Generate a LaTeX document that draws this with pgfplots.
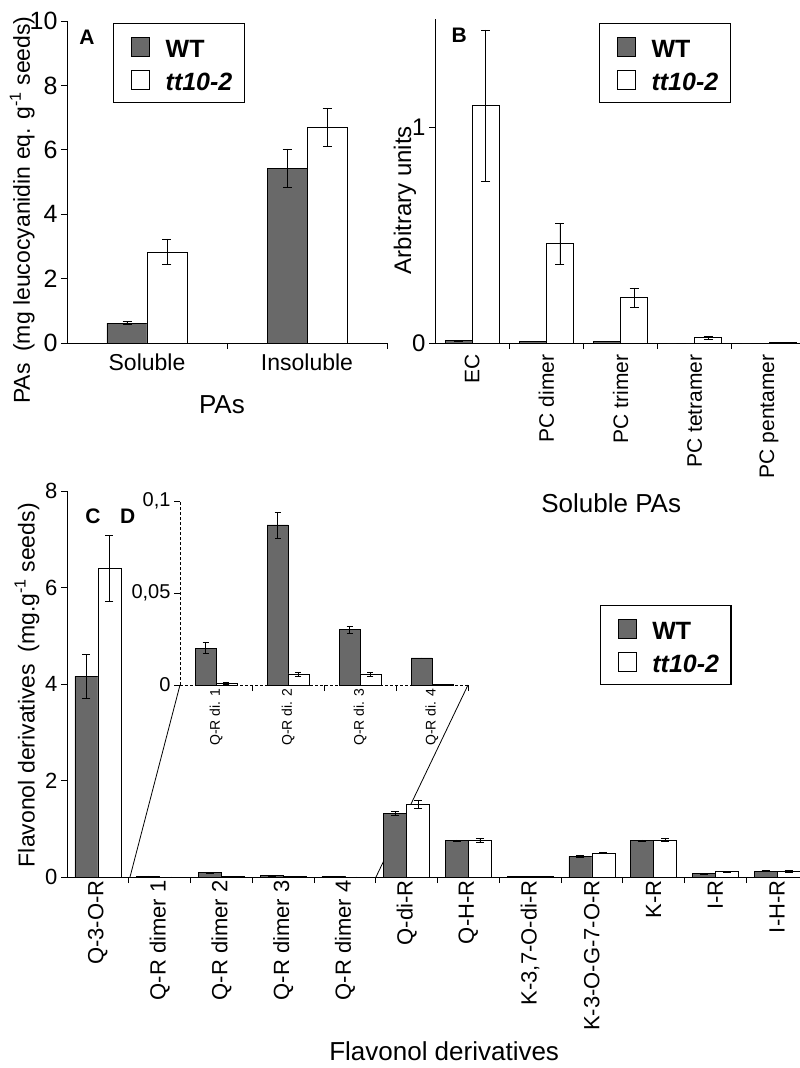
\documentclass[border=0pt]{standalone}
\usepackage{fontspec}
\setmainfont{Liberation Sans}
\usepackage{pgfplots}
\pgfplotsset{compat=1.18}
\usepackage{pgfplotstable}
\definecolor{wtgray}{RGB}{105,105,105}
\newcommand{\fs}[1]{\fontsize{#1}{#1}\selectfont}

% Panel A
\pgfplotstableread{
x y e
0.375 0.62 0.05
1.375 5.43 0.60
}\AWT
\pgfplotstableread{
x y e
0.625 2.83 0.40
1.625 6.70 0.60
}\ATT
% Panel B
\pgfplotstableread{
x y e
0.318 0.010 0
1.318 0.006 0
2.318 0.006 0
3.318 0.000 0
4.318 0.000 0
}\BWT
\pgfplotstableread{
x y e
0.682 1.100 0.350
1.682 0.460 0.095
2.682 0.210 0.045
3.682 0.025 0.008
4.682 0.002 0
}\BTT
% Panel C
\pgfplotstableread{
x y e
0.314 4.16 0.45
1.314 0.02 0.005
2.314 0.09 0.01
3.314 0.03 0.005
4.314 0.015 0
5.314 1.32 0.04
6.314 0.75 0.02
7.314 0.02 0
8.314 0.43 0.03
9.314 0.75 0.02
10.314 0.07 0.01
11.314 0.12 0.01
}\CWT
\pgfplotstableread{
x y e
0.686 6.40 0.68
1.686 0.001 0
2.686 0.006 0
3.686 0.006 0
4.686 0.001 0
5.686 1.51 0.08
6.686 0.76 0.04
7.686 0.005 0
8.686 0.50 0.01
9.686 0.77 0.04
10.686 0.11 0.01
11.686 0.12 0.02
}\CTT
% Panel D
\pgfplotstableread{
x y e
0.355 0.020 0.003
1.355 0.087 0.007
2.355 0.030 0.002
3.355 0.0147 0
}\DWT
\pgfplotstableread{
x y e
0.645 0.001 0.0007
1.645 0.006 0.001
2.645 0.006 0.001
3.645 0.0005 0
}\DTT

\pgfplotsset{
  common/.style={scale only axis, axis lines*=left, tick align=outside,
    major tick length=6pt, axis line style={line width=0.8pt},
    tick style={line width=0.8pt, black},
    /pgf/number format/assume math mode=true, clip=false,
    error bars/error bar style={line width=0.6pt, black},
  },
  wtbar/.style={ybar, bar shift=0pt, fill=wtgray, draw=black, line width=0.7pt, forget plot,
    error bars/y dir=both, error bars/y explicit},
  ttbar/.style={ybar, bar shift=0pt, fill=white, draw=black, line width=0.7pt, forget plot,
    error bars/y dir=both, error bars/y explicit},
  legwt/.style={legend image code/.code={\path[draw=none,fill=none] (-8pt,-13pt) rectangle (32pt,19pt);
      \draw[fill=wtgray,draw=black,line width=0.7pt] (0pt,-6.5pt) rectangle (18pt,12.5pt);}},
  legtt/.style={legend image code/.code={\path[draw=none,fill=none] (-8pt,-13pt) rectangle (32pt,19pt);
      \draw[fill=white,draw=black,line width=0.7pt] (0pt,-6.5pt) rectangle (18pt,12.5pt);}},
  mylegend/.style={legend style={draw=black, line width=1.2pt, font=\fs{25}\bfseries,
    legend cell align=left, inner xsep=10pt, inner ysep=7pt, row sep=1pt}},
}

\begin{document}
\begin{tikzpicture}
\useasboundingbox (0,0) rectangle (800pt,-1068pt);

% ---------------- Panel A ----------------
\begin{axis}[common, at={(67pt,-343pt)}, anchor=south west,
  width=320pt, height=322pt, xmin=0, xmax=2, ymin=0, ymax=10,
  ytick={0,2,...,10}, xtick={1,2}, xticklabels={},
  extra x ticks={0.5,1.5}, extra x tick labels={Soluble,Insoluble},
  extra x tick style={major tick length=0pt},
  y tick label style={font=\fs{25}},
  x tick label style={font=\fs{23}, yshift=-7pt},
  ylabel={PAs\hspace{0.5em}(mg leucocyanidin eq. g\textsuperscript{-1} seeds)},
  ylabel style={font=\fs{23}, at={(axis description cs:-0.14,0.413)}, anchor=center},
  xlabel={PAs}, xlabel style={font=\fs{26}, at={(axis description cs:0.484,-0.193)}, anchor=center},
  mylegend, legend style={at={(axis description cs:0.144,0.994)}, anchor=north west},
]
\addplot[wtbar, bar width=0.25, error bars/error mark options={rotate=90, mark size=4.5pt, line width=0.6pt}] table[x=x, y=y, y error=e] {\AWT};
\addplot[ttbar, bar width=0.25, error bars/error mark options={rotate=90, mark size=4.5pt, line width=0.6pt}] table[x=x, y=y, y error=e] {\ATT};
\addlegendimage{legwt}\addlegendentry{WT}
\addlegendimage{legtt}\addlegendentry{\itshape tt10-2}
\node[font=\fs{21}\bfseries] at (axis description cs:0.0625,0.95) {A};
\end{axis}

% ---------------- Panel B ----------------
\begin{axis}[common, at={(435pt,-343pt)}, anchor=south west,
  width=371pt, height=324pt, xmin=0, xmax=5, ymin=0, ymax=1.5,
  ytick={0,1}, xtick={1,...,5}, xticklabels={},
  extra x ticks={0.5,1.5,2.5,3.5,4.5},
  extra x tick labels={EC,PC dimer,PC trimer,PC tetramer,PC pentamer},
  extra x tick style={major tick length=0pt},
  y tick label style={font=\fs{24}},
  x tick label style={font=\fs{21}, yshift=-8pt, rotate=90, anchor=east},
  ylabel={Arbitrary units},
  ylabel style={font=\fs{24}, at={(axis description cs:-0.081,0.441)}, anchor=center},
  xlabel={Soluble PAs}, xlabel style={font=\fs{26}, at={(axis description cs:0.475,-0.494)}, anchor=center},
  mylegend, legend style={at={(axis description cs:0.442,0.988)}, anchor=north west},
]
\addplot[wtbar, bar width=0.364, error bars/error mark options={rotate=90, mark size=4.5pt, line width=0.6pt}] table[x=x, y=y, y error=e] {\BWT};
\addplot[ttbar, bar width=0.364, error bars/error mark options={rotate=90, mark size=4.5pt, line width=0.6pt}] table[x=x, y=y, y error=e] {\BTT};
\addlegendimage{legwt}\addlegendentry{WT}
\addlegendimage{legtt}\addlegendentry{\itshape tt10-2}
\node[font=\fs{21}\bfseries] at (axis description cs:0.065,0.951) {B};
\end{axis}

% zoom connector lines (behind panel C bars)
\draw[line width=0.8pt] (180pt,-685pt) -- (130pt,-877pt);
\draw[line width=0.8pt] (468pt,-685pt) -- (376pt,-877pt);

% ---------------- Panel C ----------------
\begin{axis}[common, at={(67pt,-877pt)}, anchor=south west,
  width=741pt, height=386pt, xmin=0, xmax=12, ymin=0, ymax=8,
  ytick={0,2,...,8}, xtick={1,...,12}, xticklabels={},
  extra x ticks={0.5,1.5,...,11.5},
  extra x tick labels={Q-3-O-R,Q-R dimer 1,Q-R dimer 2,Q-R dimer 3,Q-R dimer 4,Q-di-R,Q-H-R,{K-3,7-O-di-R},K-3-O-G-7-O-R,K-R,I-R,I-H-R},
  extra x tick style={major tick length=0pt},
  y tick label style={font=\fs{22}},
  x tick label style={font=\fs{22}, rotate=90, anchor=east},
  ylabel={Flavonol derivatives\hspace{0.5em}(mg.g\textsuperscript{-1} seeds)},
  ylabel style={font=\fs{23}, at={(axis description cs:-0.054,0.497)}, anchor=center},
  xlabel={Flavonol derivatives}, xlabel style={font=\fs{26}, at={(axis description cs:0.509,-0.452)}, anchor=center},
  mylegend, legend style={at={(axis description cs:0.719,0.705)}, anchor=north west},
]
\addplot[wtbar, bar width=0.3725, error bars/error mark options={rotate=90, mark size=4pt, line width=0.6pt}] table[x=x, y=y, y error=e] {\CWT};
\addplot[ttbar, bar width=0.3725, error bars/error mark options={rotate=90, mark size=4pt, line width=0.6pt}] table[x=x, y=y, y error=e] {\CTT};
\addlegendimage{legwt}\addlegendentry{WT}
\addlegendimage{legtt}\addlegendentry{\itshape tt10-2}
\node[font=\fs{21}\bfseries] at (axis description cs:0.035,0.935) {C};
\node[font=\fs{21}\bfseries] at (axis description cs:0.082,0.935) {D};
\end{axis}

% ---------------- Panel D (inset) ----------------
\begin{axis}[common, at={(180pt,-685pt)}, anchor=south west,
  width=288pt, height=184pt, xmin=0, xmax=4, ymin=0, ymax=0.1,
  axis line style={line width=0.8pt, densely dashed},
  ytick={0,0.05,0.1}, yticklabels={0,{0,05},{0,1}},
  xtick={1,2,3,4}, xticklabels={},
  extra x ticks={0.5,1.5,2.5,3.5},
  extra x tick labels={Q-R di. 1,Q-R di. 2,Q-R di. 3,Q-R di. 4},
  extra x tick style={major tick length=0pt},
  y tick label style={font=\fs{20}},
  x tick label style={font=\fs{14}, rotate=90, anchor=east},
]
\addplot[wtbar, bar width=0.29, error bars/error mark options={rotate=90, mark size=3pt, line width=0.6pt}] table[x=x, y=y, y error=e] {\DWT};
\addplot[ttbar, bar width=0.29, error bars/error mark options={rotate=90, mark size=3pt, line width=0.6pt}] table[x=x, y=y, y error=e] {\DTT};
\end{axis}
\end{tikzpicture}
\end{document}
